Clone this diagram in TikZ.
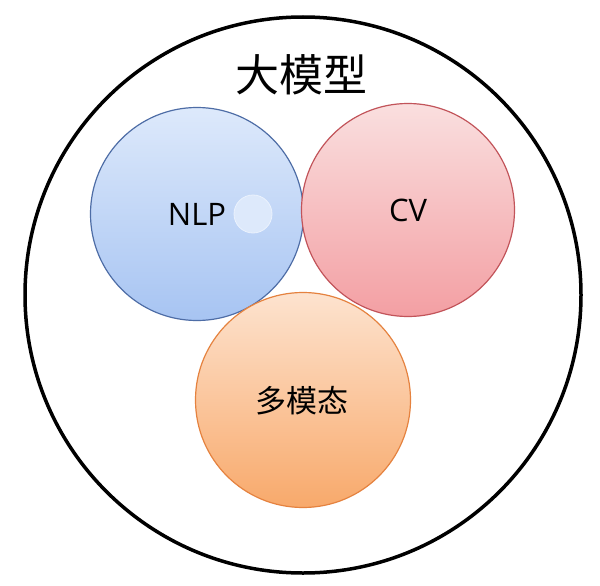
\documentclass[tikz,border=0pt]{standalone}
\usepackage{fontspec}
\newfontfamily\cjk{Noto Sans CJK SC}
\newfontfamily\latin{Open Sans}
\definecolor{nlpTop}{HTML}{DDE9FB}
\definecolor{nlpBot}{HTML}{A7C4F2}
\definecolor{nlpLine}{HTML}{4E6DA6}
\definecolor{cvTop}{HTML}{FADFDF}
\definecolor{cvBot}{HTML}{F39FA3}
\definecolor{cvLine}{HTML}{C2545A}
\definecolor{mmTop}{HTML}{FDE3CF}
\definecolor{mmBot}{HTML}{F8A96B}
\definecolor{mmLine}{HTML}{E5823F}
\tikzset{
  field/.style={circle,inner sep=0pt,minimum size=213pt,line width=1.2pt},
}
\begin{document}
\begin{tikzpicture}[x=1pt,y=-1pt]
                \useasboundingbox[fill=white] (0,0) rectangle (600,586);
                \node[circle,draw,line width=3.5pt,minimum size=556pt,inner sep=0pt] (big) at (303,295) {};
                \node[font=\cjk\fontsize{44}{48}\selectfont] (bigl) at (301,75) {大模型};
                \node[field,draw=nlpLine,top color=nlpTop,bottom color=nlpBot] (nlp) at (197,214) {};
                \node[field,draw=cvLine,top color=cvTop,bottom color=cvBot] (cv) at (408,210) {};
                \node[field,draw=mmLine,top color=mmTop,bottom color=mmBot,minimum size=215pt] (mm) at (303,400) {};
                \node[circle,inner sep=0pt,minimum size=38pt,fill=nlpTop,draw=nlpTop!60!white,line width=0.8pt] (spot) at (253,214) {};
                \node[font=\latin\fontsize{31}{34}\selectfont] (nlpl) at (nlp) {NLP};
                \node[font=\latin\fontsize{31}{34}\selectfont] (cvl) at (cv) {CV};
                \node[font=\cjk\fontsize{31}{34}\selectfont] (mml) at (302,401) {多模态};
            \end{tikzpicture}
\end{document}
